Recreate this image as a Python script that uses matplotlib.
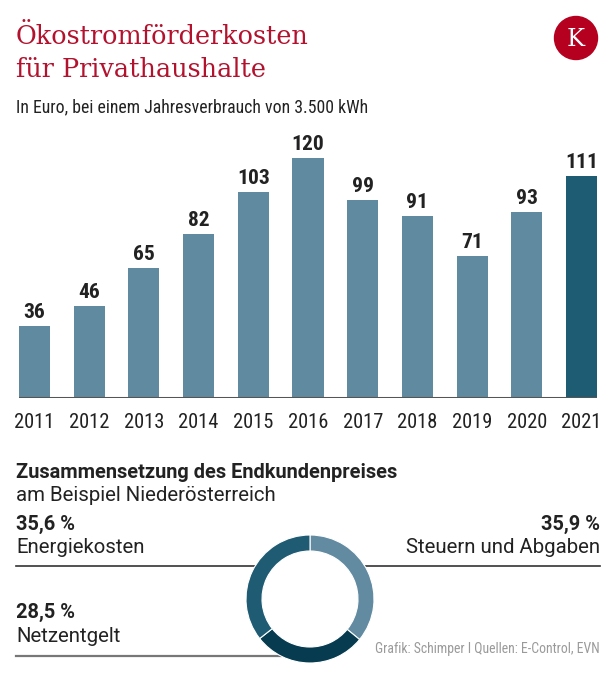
import matplotlib
matplotlib.use("Agg")
import matplotlib.pyplot as plt
from matplotlib.patches import Circle

years = ["2011", "2012", "2013", "2014", "2015", "2016", "2017", "2018", "2019", "2020", "2021"]
values = [36, 46, 65, 82, 103, 120, 99, 91, 71, 93, 111]

pie_labels = ["Steuern und Abgaben", "Netzentgelt", "Energiekosten"]
pie_values = [35.9, 28.5, 35.6]
pie_pct_text = ["35,9 %", "28,5 %", "35,6 %"]

title_lines = ["Ökostromförderkosten", "für Privathaushalte"]
subtitle = "In Euro, bei einem Jahresverbrauch von 3.500 kWh"
sec_title = "Zusammensetzung des Endkundenpreises"
sec_sub = "am Beispiel Niederösterreich"
credit = "Grafik: Schimper I Quellen: E-Control, EVN"

W, H = 616, 695
DPI = 100
PX = 72 / DPI  # points per pixel

COND = ["Roboto Condensed", "Roboto", "DejaVu Sans"]
SANS = ["Roboto", "DejaVu Sans"]
SERIF = ["DejaVu Serif"]
RED = "#b3122e"
TXT = "#222222"
BAR = "#608aa0"
BAR_HL = "#1e5c73"
PIE_COLORS = ["#628ba1", "#073c50", "#1f5c73"]

fig = plt.figure(figsize=(W / DPI, H / DPI), dpi=DPI)
fig.patch.set_facecolor("white")

ov = fig.add_axes([0, 0, 1, 1])
ov.set_xlim(0, W)
ov.set_ylim(H, 0)
ov.axis("off")

ov.text(16, 44, title_lines[0], color=RED, family=SERIF, fontsize=25.5 * PX, va="baseline")
ov.text(16, 77, title_lines[1], color=RED, family=SERIF, fontsize=25.5 * PX, va="baseline")
ov.text(16, 112, subtitle, color=TXT, family=COND, fontsize=17.8 * PX, va="baseline")

# logo
ov.add_patch(Circle((576, 38), 21.5, color="#b5001f", zorder=3))
ov.text(576, 39, "K", color="white", family=SERIF, fontsize=24 * PX,
        ha="center", va="center", zorder=4)

# bar chart
left_px, right_px = 19, 597
base_px, top_px = 398, 138
bw = 0.567
axb = fig.add_axes([left_px / W, (H - base_px) / H, (right_px - left_px) / W, (base_px - top_px) / H])
x = list(range(len(years)))
colors = [BAR] * (len(years) - 1) + [BAR_HL]
axb.bar(x, values, width=bw, color=colors, zorder=2)
axb.set_xlim(-bw / 2, len(years) - 1 + bw / 2)
axb.set_ylim(0, 130)
axb.axhline(0, color="#555555", lw=2.2, zorder=3)
for xi, v in zip(x, values):
    axb.annotate(str(v), (xi, v), xytext=(0, 8 * PX), textcoords="offset points",
                 ha="center", va="baseline", family=COND, fontweight="bold",
                 fontsize=21.5 * PX, color=TXT)
axb.set_xticks(x)
axb.set_xticklabels(years, family=COND, fontsize=20.5 * PX, color=TXT)
axb.tick_params(axis="x", length=0, pad=15 * PX)
axb.set_yticks([])
for s in axb.spines.values():
    s.set_visible(False)
axb.patch.set_alpha(0)

# lower section
ov.text(16, 478, sec_title, color=TXT, family=SANS, fontweight="bold", fontsize=20 * PX, va="baseline")
ov.text(16, 501, sec_sub, color=TXT, family=SANS, fontsize=20.4 * PX, va="baseline")

ov.text(16, 530, pie_pct_text[2], color=TXT, family=SANS, fontweight="bold", fontsize=20 * PX, va="baseline")
ov.text(16, 553, pie_labels[2], color=TXT, family=SANS, fontsize=20.4 * PX, va="baseline")
ov.text(600, 530, pie_pct_text[0], color=TXT, family=SANS, fontweight="bold", fontsize=20 * PX, va="baseline", ha="right")
ov.text(600, 553, pie_labels[0], color=TXT, family=SANS, fontsize=20.4 * PX, va="baseline", ha="right")
ov.text(16, 618, pie_pct_text[1], color=TXT, family=SANS, fontweight="bold", fontsize=20 * PX, va="baseline")
ov.text(16, 642, pie_labels[1], color=TXT, family=SANS, fontsize=20.4 * PX, va="baseline")

ov.plot([16, 256], [566, 566], color="#333333", lw=1.2)
ov.plot([365, 600], [566, 566], color="#333333", lw=1.2)
ov.plot([16, 281], [656, 656], color="#777777", lw=1.6)

ov.text(600, 653, credit, color="#9a9a9a", family=COND, fontsize=13.8 * PX, va="baseline", ha="right")

# donut
cx, cy, r = 310, 599, 64
axp = fig.add_axes([(cx - r) / W, (H - cy - r) / H, 2 * r / W, 2 * r / H])
axp.pie(pie_values, colors=PIE_COLORS, startangle=90, counterclock=False,
        radius=1, wedgeprops=dict(width=0.25, edgecolor="white", linewidth=0.8))
axp.set_xlim(-1, 1)
axp.set_ylim(-1, 1)
axp.set_aspect("equal")
axp.axis("off")

fig.savefig("out.png", dpi=DPI, facecolor="white")
